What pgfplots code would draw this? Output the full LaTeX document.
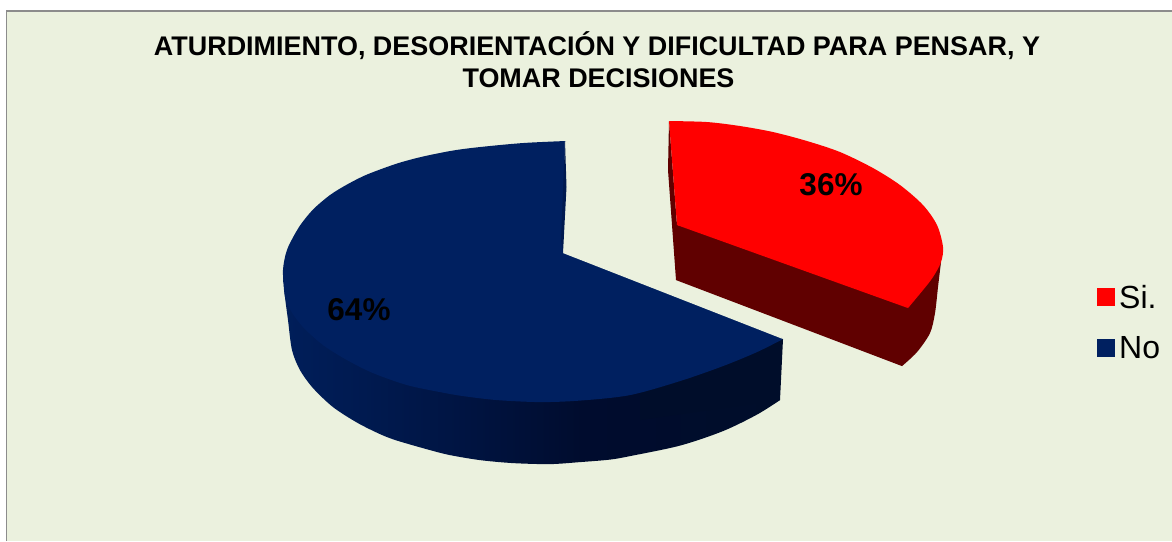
\documentclass[border=0pt]{standalone}
\usepackage{fontspec}
\setmainfont{Liberation Sans}
\usepackage{pgfplots}
\pgfplotsset{compat=1.18}

\definecolor{panel}{HTML}{EBF1DE}
\definecolor{frame}{HTML}{8C8C8C}
\definecolor{redtop}{HTML}{FF0000}
\definecolor{redwall}{HTML}{600000}
\definecolor{bluetop}{HTML}{002060}
\definecolor{blueA}{HTML}{001E5A}
\definecolor{blueB}{HTML}{001A50}
\definecolor{blueC}{HTML}{001442}
\definecolor{blueD}{HTML}{000C2E}
\definecolor{blueE}{HTML}{000D2A}
% path box of the wall (x 283..780) sits on 25bp..75bp
\pgfdeclarehorizontalshading{bluewall}{100bp}{
  color(0bp)=(blueA); color(25bp)=(blueA); color(33bp)=(blueB);
  color(43bp)=(blueC); color(55bp)=(blueD); color(75bp)=(blueE); color(100bp)=(blueE)}

\begin{document}
\begin{tikzpicture}
\begin{axis}[
  scale only axis, width=586pt, height=270.5pt,
  hide axis,
  xmin=0, xmax=1172, ymin=0, ymax=541, y dir=reverse,
  legend style={draw=none, fill=none, at={(axis cs:1097,281)}, anchor=north west,
    font=\fontsize{16}{18}\selectfont, row sep=8.6pt, inner sep=0pt,
    /tikz/every even column/.append style={column sep=5.5pt}},
  legend cell align=left,
]
% page and panel
\addplot[fill=white, draw=none, forget plot] coordinates {(0,0) (1172,0) (1172,541) (0,541)};
\addplot[fill=panel, draw=none, forget plot] coordinates {(6,10) (1172,10) (1172,541) (6,541)};
\addplot[draw=frame, line width=0.8pt, forget plot] coordinates {(6.5,541) (6.5,11) (1172,11)};

% blue slice: wall, top arc, then the gap of the wedge
\addplot[shading=bluewall, draw=none, smooth, forget plot] coordinates {
  (780,400) (757,414.5) (723,431) (680,445.5) (630,456) (610,459.5) (580,462) (550,464)
  (513,463) (480,460) (450,455) (430,450) (397,440.5) (380,434) (357,422.5) (333,407)
  (313,388) (300,370) (292,350) (288,320) (285,297) (283,273)};
\addplot[fill=blueE, draw=none, forget plot] coordinates {(783,339) (780,400) (640,420) (640,370)};
\addplot[fill=bluetop, draw=none, smooth, forget plot] coordinates {
  (783,339) (757,352) (723,366) (680,381) (630,395) (580,400.5) (540,402) (497,400)
  (463,396) (440,392) (407,385) (373,373) (347,360) (323,345) (303,327) (291,311)
  (285,297) (283,275) (283.5,265) (286,253) (290,243) (300,225.5) (313,209.5) (330,195)
  (347,184.5) (367,174.5) (397,163.5) (423,156.5) (453,150.5) (480,147) (523,143) (565,141)};
\addplot[fill=panel, draw=none, forget plot] coordinates {(563,253) (783,339) (700,230) (565,141)};
\addplot[fill=blueB, draw=none, forget plot] coordinates {(565,141) (566.5,187) (563,253) (561,240)};

% red slice: wall, then top
\addplot[fill=redwall, draw=none, smooth, forget plot] coordinates {
  (902,366) (917,352) (930,333) (935,313) (938,287) (941,262)};
\addplot[fill=redwall, draw=none, forget plot] coordinates {
  (669,121) (668,170) (676,280) (902,366) (918,340) (936,280) (941,262) (677,225)};
\addplot[fill=redtop, draw=none, smooth, forget plot] coordinates {
  (669,121) (707,122) (740,126) (773,132) (807,141) (840,152) (873,168) (900,185)
  (923,205) (937,225) (943,247) (941,262) (933,277) (923,290) (908,308)};
\addplot[fill=redtop, draw=none, forget plot] coordinates {
  (669,121) (677,225) (908,308) (800,200)};

\addlegendimage{legend image code/.code={\fill[redtop] (0pt,-3.4pt) rectangle (8.5pt,5pt);}}
\addlegendentry{Si.}
\addlegendimage{legend image code/.code={\fill[bluetop] (0pt,-3.4pt) rectangle (8.5pt,5pt);}}
\addlegendentry{No}

% title and percentages
\node[anchor=base, font=\bfseries\fontsize{13.47}{14}\selectfont] at (axis cs:597,55)
  {ATURDIMIENTO, DESORIENTACIÓN Y DIFICULTAD PARA PENSAR, Y};
\node[anchor=base, font=\bfseries\fontsize{13.47}{14}\selectfont] at (axis cs:598.5,87)
  {TOMAR DECISIONES};
\node[anchor=base, font=\bfseries\fontsize{15.75}{18}\selectfont] at (axis cs:831,195) {36\%};
\node[anchor=base, font=\bfseries\fontsize{15.75}{18}\selectfont] at (axis cs:359,320) {64\%};
\end{axis}
\end{tikzpicture}
\end{document}
